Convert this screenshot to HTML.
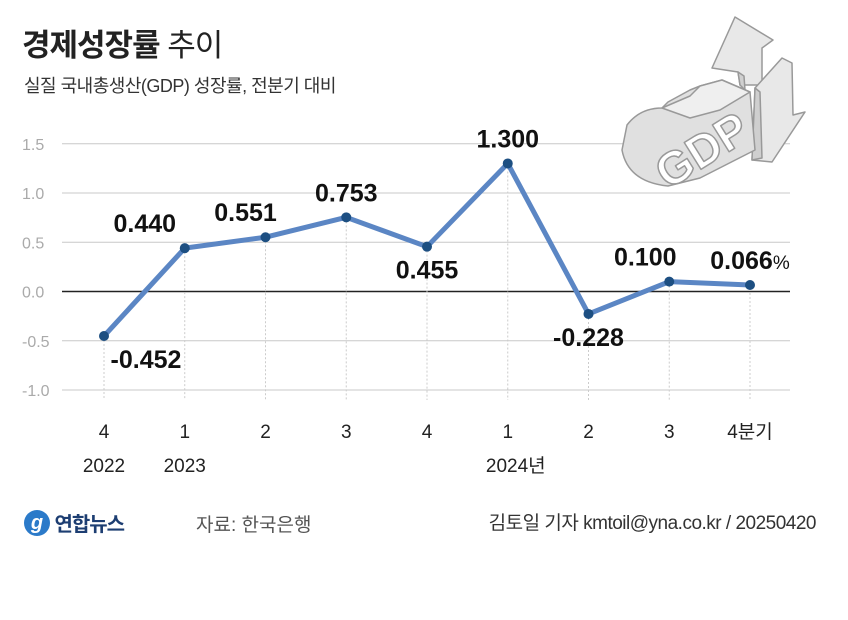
<!DOCTYPE html>
<html><head><meta charset="utf-8"><style>
body{margin:0;background:#fff;}
#wrap{position:relative;width:848px;height:620px;overflow:hidden;font-family:"Liberation Sans","Noto Sans CJK KR",sans-serif;}
.t{position:absolute;white-space:nowrap;}
</style></head><body>
<div id="wrap">
<div class="t" style="left:22px;top:20px;font-size:31px;font-weight:bold;color:#222;letter-spacing:-1px;">경제성장률 <span style="font-weight:normal;">추이</span></div>
<div class="t" style="left:24px;top:72px;font-size:18px;color:#333;letter-spacing:-0.5px;">실질 국내총생산(GDP) 성장률, 전분기 대비</div>
<svg id="chart" width="848" height="620" style="position:absolute;left:0;top:0;">
<g id="grid"></g>
<g id="icon" stroke="#999" stroke-width="1.5" stroke-linejoin="round">
<polygon fill="#e8e8e8" points="712,68 735,17 773,40 762,48 762,85 740,85 738,72"/>
<polygon fill="#d0d0d0" points="738,72 740,85 745,90 744,76"/>
<polygon fill="#e8e8e8" points="755,88 782,58 792,63 793,115 805,112 772,162 752,160"/>
<polygon fill="#cfcfcf" points="755,88 760,92 762,158 752,160"/>
<path fill="#e0e0e0" d="M627,125 Q640,108 662,108 L668,102 L690,90 L700,86 L722,80 L750,92 L755,150 L700,178 L668,186 Q628,182 622,150 Z"/>
<polygon fill="#efefef" points="662,108 690,96 700,86 722,80 750,92 720,110 690,118"/>
<text x="0" y="0" font-size="46" font-weight="bold" fill="#fff" stroke="#999" stroke-width="1.5" transform="translate(668,190) rotate(-32)">GDP</text>
</g>
<g id="marks"></g>
</svg>
<div class="t" style="left:24px;top:508px;">
<span style="display:inline-block;width:26px;height:26px;border-radius:50%;background:#2b7ac9;vertical-align:middle;color:#fff;font-style:italic;font-weight:bold;text-align:center;line-height:26px;font-size:20px;">g</span>
<span style="font-size:20px;font-weight:bold;color:#1d3e72;vertical-align:middle;letter-spacing:-1px;">연합뉴스</span></div>
<div class="t" style="left:196px;top:510px;font-size:19px;color:#555;">자료: 한국은행</div>
<div class="t" style="right:32px;top:508px;font-size:19px;color:#333;letter-spacing:-0.5px;">김토일 기자 kmtoil@yna.co.kr / 20250420</div>
</div>
<script>
const categories=["4","1","2","3","4","1","2","3","4분기"];
const yearLabels=["2022","2023","","","","2024년","","",""];
const values=[-0.452,0.440,0.551,0.753,0.455,1.300,-0.228,0.100,0.066];
const valueLabels=["-0.452","0.440","0.551","0.753","0.455","1.300","-0.228","0.100","0.066"];
const yTicks=[1.5,1.0,0.5,0.0,-0.5,-1.0];
const yTickLabels=["1.5","1.0","0.5","0.0","-0.5","-1.0"];
const NS="http://www.w3.org/2000/svg";
const x=i=>104+i*80.75;
const y=v=>291.5-v*98.5;
const labelDx=[42,-40,-20,0,0,0,0,-24,0];
function mk(tag,attrs,parent){const e=document.createElementNS(NS,tag);for(const k in attrs)e.setAttribute(k,attrs[k]);parent.appendChild(e);return e;}
const grid=document.getElementById('grid'),marks=document.getElementById('marks');
yTicks.forEach((t,i)=>{
  const l=mk('line',{x1:62,x2:790,y1:y(t),y2:y(t),stroke:t===0?'#222':'#c8c8c8','stroke-width':t===0?1.5:1},grid);
  
  
  const tx=mk('text',{x:22,y:y(t)+6,'font-size':16,fill:'#aaa'},grid);
  tx.textContent=yTickLabels[i];
  
  
});
categories.forEach((c,i)=>{
  const d=mk('line',{x1:x(i),x2:x(i),y1:y(values[i]),y2:400,stroke:'#ccc','stroke-dasharray':'2,2'},grid);
  
  
  const t=mk('text',{x:x(i),y:438,'font-size':19,fill:'#222','text-anchor':'middle'},grid);
  t.textContent=c;
  
  
  if(yearLabels[i]){const yt=mk('text',{x:x(i)+(i===5?8:0),y:472,'font-size':19,fill:'#222','text-anchor':'middle'},grid);
  yt.textContent=yearLabels[i];
  
  }
});
const line=mk('polyline',{points:values.map((v,i)=>x(i)+','+y(v)).join(' '),fill:'none',stroke:'#5b86c4','stroke-width':5,'stroke-linejoin':'round'},marks);


values.forEach((v,i)=>{
  const c=mk('circle',{cx:x(i),cy:y(v),r:5,fill:'#1d4f82'},marks);
  
  
  const below=(i===0||i===4||i===6);
  const t=mk('text',{x:x(i)+labelDx[i],y:below?y(v)+32:y(v)-16,'font-size':25,'font-weight':'bold',fill:'#111','text-anchor':'middle'},marks);
  t.textContent=valueLabels[i];
  
  
  if(i===values.length-1){const p=mk('tspan',{'font-size':19,'font-weight':'normal'},t);p.textContent='%';}
});
</script>
</body></html>
